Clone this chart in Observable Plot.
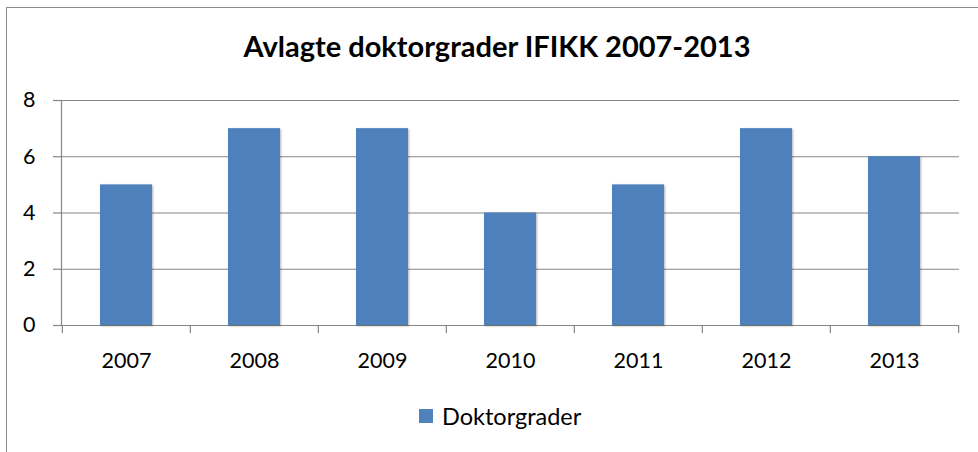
<!DOCTYPE html>
<html><head><meta charset="utf-8">
<script src="https://cdn.jsdelivr.net/npm/d3@7"></script>
<script src="https://cdn.jsdelivr.net/npm/@observablehq/plot@0.6"></script>
<style>
body{margin:0;background:#fff;}
#wrap{position:relative;width:978px;height:452px;overflow:hidden;font-family:Lato,"Open Sans",sans-serif;color:#000;}
#border{position:absolute;left:6px;top:7px;width:2000px;height:2000px;border-top:1.5px solid #8c8c8c;border-left:1.5px solid #8c8c8c;}
#title{position:absolute;left:0;width:994px;top:28px;line-height:36px;text-align:center;font-weight:700;font-size:29px;}
#chart{position:absolute;left:0;top:80px;}
#legend{position:absolute;left:419px;top:400px;height:32px;display:flex;align-items:center;font-size:23.5px;}
#legend .sw{width:14px;height:14px;background:#4F81BD;margin-right:9px;}
g[aria-label="bar"] rect{filter:drop-shadow(1px 1px 1px rgba(0,0,0,0.3));}
</style></head>
<body>
<div id="wrap">
  <div id="border"></div>
  <div id="title"></div>
  <div id="chart"></div>
  <div id="legend"><div class="sw"></div><span id="legtext"></span></div>
</div>
<script>
const title = "Avlagte doktorgrader IFIKK 2007-2013";
const seriesName = "Doktorgrader";
const years = ["2007", "2008", "2009", "2010", "2011", "2012", "2013"];
const values = [5, 7, 7, 4, 5, 7, 6];
const yTicks = [0, 2, 4, 6, 8];

document.getElementById("title").textContent = title;
document.getElementById("legtext").textContent = seriesName;

const W = 978, H = 300, mL = 61, mR = 19;
const step = (W - mL - mR) / years.length;
const gray = "#868686";
const data = years.map((y, i) => ({year: y, value: values[i]}));

const chart = Plot.plot({
  width: W, height: H,
  marginTop: 20, marginBottom: 55, marginLeft: mL, marginRight: mR,
  x: {domain: years, paddingInner: 0.595, paddingOuter: 0.2975, axis: null, label: null},
  y: {domain: [0, 8], axis: null, label: null},
  style: {fontFamily: "Lato, 'Open Sans', sans-serif", fontSize: "21.5px", color: "#000", background: "transparent", overflow: "visible"},
  marks: [
    Plot.gridY(yTicks, {stroke: gray, strokeOpacity: 1, strokeWidth: 1.2}),
    Plot.axisY(yTicks, {tickSize: 8, tickPadding: 18, stroke: gray, strokeOpacity: 1, strokeWidth: 1.2, fontSize: 21.5, label: null}),
    Plot.frame({anchor: "left", stroke: gray, strokeOpacity: 1, strokeWidth: 1.2}),
    Plot.barY(data, {x: "year", y: "value", fill: "#4F81BD"}),
    Plot.axisX({tickSize: 8, dx: -step / 2, text: null, stroke: gray, strokeOpacity: 1, strokeWidth: 1.2, label: null}),
    Plot.axisX([years[years.length - 1]], {tickSize: 8, dx: step / 2, text: null, stroke: gray, strokeOpacity: 1, strokeWidth: 1.2, label: null}),
    Plot.axisX({tickSize: 0, tickPadding: 27, fontSize: 21.5, label: null})
  ]
});
document.getElementById("chart").appendChild(chart);
</script>
</body></html>
